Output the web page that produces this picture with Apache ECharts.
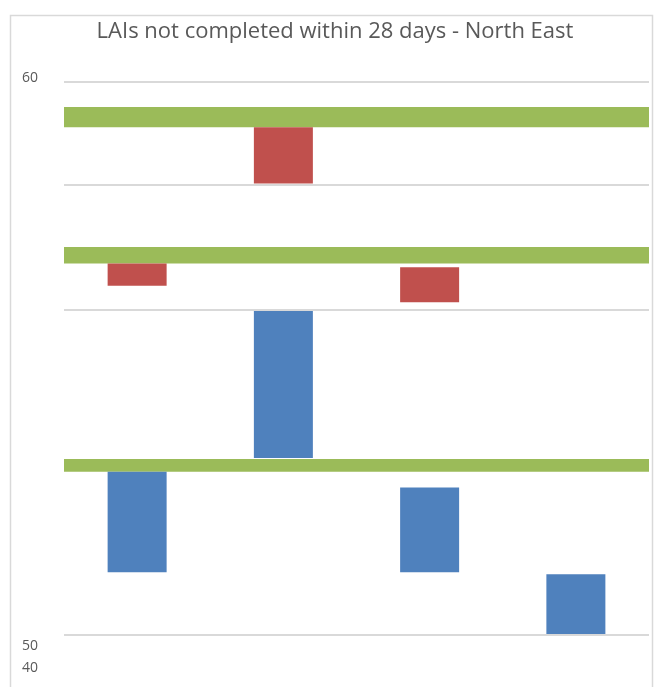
<!DOCTYPE html>
<html>
<head>
<meta charset="utf-8">
<script src="https://cdn.jsdelivr.net/npm/echarts@6/dist/echarts.min.js"></script>
<style>
  html, body { margin: 0; padding: 0; background: #ffffff; }
  #chart { width: 656px; height: 687px; }
</style>
</head>
<body>
<div id="chart"></div>
<script>
// Categories along the horizontal axis (labels are not shown)
const categories = ['Q1', 'Q2', 'Q3', 'Q4'];

// Floating blue segments: bottom and top value per category
const blueLow  = [6.8, 19.2, 6.8, 0];
const blueHigh = [17.7, 35.2, 16.0, 6.6];

// Floating red segments: bottom and top value per category (none for the last)
const redLow  = [37.9, 49.0, 36.1, null];
const redHigh = [40.3, 55.1, 39.9, null];

// Green horizontal bands spanning the plot
const bandLow  = [17.7, 40.3, 55.1];
const bandHigh = [19.1, 42.1, 57.3];

// Horizontal gridlines
const gridValues = [0, 35.3, 48.8, 60];

// Tick labels
const topTicks = [60];
const bottomTicks = [50, 40];

const BLUE = '#4F81BD', RED = '#C0504D', GREEN = '#9BBB59', GRID = '#D9D9D9', TEXT = '#595959';
const FONT = '"Open Sans", "Liberation Sans", sans-serif';

const hasRed = redLow.map(v => v !== null);
const baseSeg = blueLow.slice();
const blueSeg = blueHigh.map((h, i) => +(h - blueLow[i]).toFixed(3));
const gapSeg  = redLow.map((l, i) => hasRed[i] ? +(l - blueHigh[i]).toFixed(3) : '-');
const redSeg  = redHigh.map((h, i) => hasRed[i] ? +(h - redLow[i]).toFixed(3) : '-');

const chart = echarts.init(document.getElementById('chart'), null, { renderer: 'canvas' });

chart.setOption({
  animation: false,
  backgroundColor: '#ffffff',
  title: {
    text: 'LAIs not completed within 28 days - North East',
    left: 330,
    textAlign: 'center',
    top: 16,
    textStyle: { color: TEXT, fontSize: 22, fontWeight: 'normal', fontFamily: FONT }
  },
  graphic: [{
    type: 'rect',
    shape: { x: 10.5, y: 15.5, width: 642, height: 700 },
    style: { fill: 'none', stroke: GRID, lineWidth: 1.5 },
    silent: true,
    z: -10
  }],
  grid: [
    { left: 64, right: 7, top: 82, bottom: 52 },
    { left: 64, right: 7, top: 646, bottom: 19 }
  ],
  xAxis: [
    { type: 'category', gridIndex: 0, data: categories,
      axisLine: { show: false }, axisTick: { show: false }, axisLabel: { show: false } },
    { type: 'category', gridIndex: 1, data: categories, show: false }
  ],
  yAxis: [
    { type: 'value', gridIndex: 0, min: 0, max: 60, interval: 60,
      axisLine: { show: false }, axisTick: { show: false }, splitLine: { show: false },
      axisLabel: {
        color: TEXT, fontSize: 14, fontFamily: FONT, margin: 26,
        verticalAlign: 'bottom', lineHeight: 8,
        formatter: v => topTicks.includes(v) ? String(v) : ''
      } },
    { type: 'value', gridIndex: 1, min: 40, max: 50, interval: 10,
      axisLine: { show: false }, axisTick: { show: false }, splitLine: { show: false },
      axisLabel: {
        color: TEXT, fontSize: 14, fontFamily: FONT, margin: 26,
        formatter: v => bottomTicks.includes(v) ? String(v) : ''
      } }
  ],
  series: [
    {
      name: 'grid', type: 'line', data: [], z: 1, silent: true,
      markLine: {
        silent: true, symbol: 'none', animation: false,
        label: { show: false },
        lineStyle: { color: GRID, width: 2, type: 'solid' },
        data: gridValues.map(v => ({ yAxis: v }))
      }
    },
    { name: 'base', type: 'bar', stack: 'a', barWidth: 59, z: 2, silent: true,
      itemStyle: { color: 'transparent' }, data: baseSeg },
    { name: 'blue', type: 'bar', stack: 'a', barWidth: 59, z: 2,
      itemStyle: { color: BLUE }, data: blueSeg },
    { name: 'gap', type: 'bar', stack: 'a', barWidth: 59, z: 2, silent: true,
      itemStyle: { color: 'transparent' }, data: gapSeg },
    { name: 'red', type: 'bar', stack: 'a', barWidth: 59, z: 2,
      itemStyle: { color: RED }, data: redSeg },
    {
      name: 'bands', type: 'line', data: [], z: 5, silent: true,
      markArea: {
        silent: true,
        itemStyle: { color: GREEN, opacity: 1 },
        data: bandLow.map((l, i) => [{ yAxis: l }, { yAxis: bandHigh[i] }])
      }
    }
  ]
});
</script>
</body>
</html>
